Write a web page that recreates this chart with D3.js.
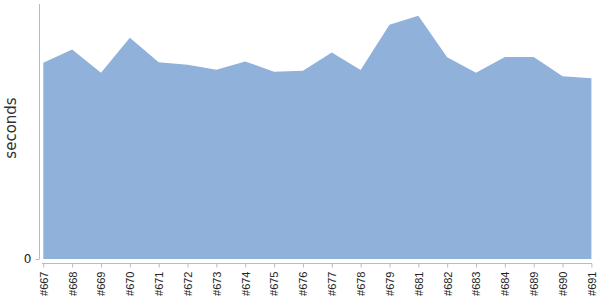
<!DOCTYPE html>
<html>
<head>
<meta charset="utf-8">
<script src="https://cdn.jsdelivr.net/npm/d3@7"></script>
<style>
    body { margin: 0; background: #fff; }
    .tick text { fill: #222; }
</style>
</head>
<body>
<div id="chart"></div>
<script>
const builds = ['#667', '#668', '#669', '#670', '#671', '#672', '#673', '#674', '#675', '#676',
                '#677', '#678', '#679', '#681', '#682', '#683', '#684', '#689', '#690', '#691']
const seconds = [77.0, 82.2, 73.0, 86.8, 77.2, 76.2, 74.2, 77.5, 73.4, 73.8,
                 81.0, 74.1, 91.9, 95.4, 79.1, 73.0, 79.2, 79.2, 71.7, 70.9]
const yTicks = [0]
const yMax = 100

const w = 600
const h = 300

const svg = d3.select('#chart')
    .append('svg')
    .attr('width', w)
    .attr('height', h)

const xScale = d3.scalePoint()
    .domain(builds)
    .range([43.3, 591.4])

const yScale = d3.scaleLinear()
    .domain([0, yMax])
    .range([259, 4])

let data = builds.map((b, i) => [b, seconds[i]])

const area = d3.area()
    .x(d => xScale(d[0]))
    .y0(yScale(0))
    .y1(d => yScale(d[1]))

svg.append('path')
    .datum(data)
    .attr('d', area)
    .attr('fill', '#8fb1da')

// y axis, set a little left of the plot
const yAxis = d3.axisLeft(yScale)
    .tickValues(yTicks)
    .tickSize(4)
    .tickPadding(4)

const yg = svg.append('g')
    .attr('transform', 'translate(39.5,0)')
    .call(yAxis)
yg.select('.domain').attr('stroke', '#bbb').attr('d', 'M0,4V259')
yg.selectAll('.tick line').attr('stroke', '#bbb')
yg.selectAll('.tick text')
    .attr('font-family', 'DejaVu Sans, sans-serif')
    .attr('font-size', 12)
    .attr('fill', '#555')

// x axis, set a little below the plot
const xAxis = d3.axisBottom(xScale)
    .tickSize(4)
    .tickSizeOuter(0)

const xg = svg.append('g')
    .attr('transform', 'translate(0,263.5)')
    .call(xAxis)
xg.select('.domain').attr('stroke', '#bbb').attr('d', 'M42,0H592')
xg.selectAll('.tick line').attr('stroke', '#bbb')
xg.selectAll('.tick text')
    .attr('font-family', 'Liberation Sans, Arial, sans-serif')
    .attr('font-size', 11)
    .attr('fill', '#111')
    .attr('text-anchor', 'end')
    .attr('transform', 'rotate(-90)')
    .attr('x', -8)
    .attr('y', 0)
    .attr('dy', '0.35em')

svg.append('text')
    .text('seconds')
    .attr('transform', 'translate(16,128) rotate(-90)')
    .attr('text-anchor', 'middle')
    .attr('font-family', 'DejaVu Sans, sans-serif')
    .attr('font-size', 15)
    .attr('fill', '#333')
</script>
</body>
</html>
